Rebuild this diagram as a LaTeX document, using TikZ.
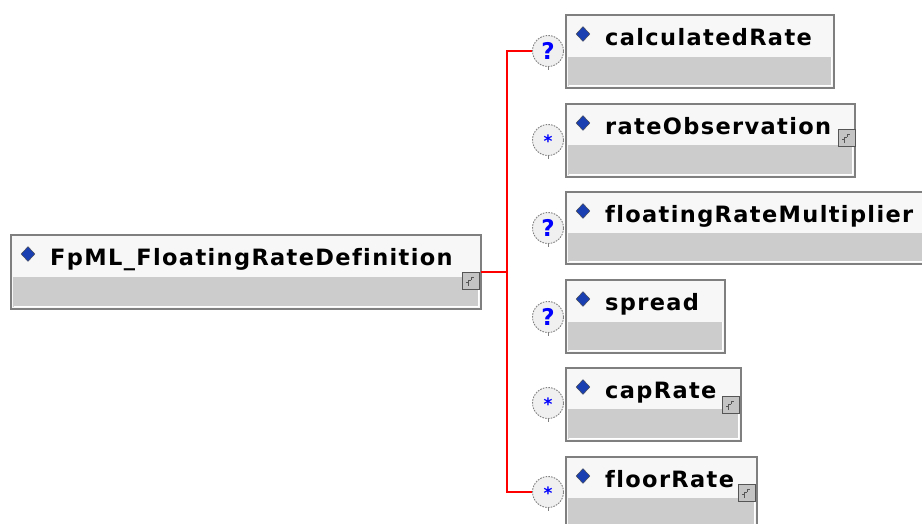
\documentclass[tikz,border=0pt]{standalone}
\usepackage{fontspec}
\setmainfont{DejaVu Sans}
\newfontfamily\lblfont[LetterSpace=6,Ligatures={NoCommon}]{DejaVu Sans}
\usetikzlibrary{shapes.geometric}
\definecolor{bordergray}{HTML}{7F7F7F}
\definecolor{topfill}{HTML}{F7F7F7}
\definecolor{bandfill}{HTML}{CCCCCC}
\definecolor{diamblue}{HTML}{1A3FB0}
\definecolor{badgefill}{HTML}{F0F0F0}
\definecolor{qblue}{HTML}{0000FF}
\definecolor{iconfill}{HTML}{C4C4C4}
\definecolor{iconedge}{HTML}{555555}
\definecolor{linered}{HTML}{FF0000}
\tikzset{
  elem/.style={anchor=north west, draw=bordergray, line width=1.6pt, fill=topfill, inner sep=0pt, outer sep=0pt},
  lbl/.style={anchor=base west, inner sep=0pt, font=\lblfont\fontsize{22.5}{26}\selectfont\bfseries},
  diam/.style={diamond, fill=diamblue, draw=black!70, line width=0.4pt, inner sep=0pt, minimum width=14pt, minimum height=15pt},
  badge/.style={circle, draw=bordergray, dash pattern=on 1.6pt off 1.2pt, line width=0.9pt, fill=badgefill, minimum size=31pt, inner sep=0pt},
  qmark/.style={text=qblue, font=\fontsize{23}{24}\selectfont\bfseries},
  star/.style={text=qblue, font=\fontsize{17}{18}\selectfont\bfseries},
  icon/.style={anchor=north west, draw=iconedge, line width=1pt, fill=iconfill, minimum size=17pt, inner sep=0pt},
  redline/.style={color=linered, line width=1.5pt},
}
% #1 name, #2 x1, #3 y1, #4 x2, #5 y2, #6 divider y, #7 label
\newcommand\elbox[7]{%
  \node[elem, minimum width={(#4-#2)*1pt}, minimum height={(#5-#3)*1pt}] (#1) at (#2,#3) {};
  \fill[bandfill] (#2+2,#6) rectangle (#4-2,#5-2);
  \draw[white, line width=0.8pt] (#2+2.5,#5-2.5) -- (#4-2.5,#5-2.5) -- (#4-2.5,#6);
  \node[diam] (#1-d) at (#2+17,#3+19) {};
  \node[lbl] (#1-t) at (#2+39,#3+30) {#7};
}
% icon: #1 name, #2 x, #3 y
\newcommand\cicon[3]{%
  \node[icon] (#1) at (#2,#3) {};
  \draw[iconedge, line width=1pt] (#2+6,#3+14) -- (#2+6,#3+8) -- (#2+9,#3+8) (#2+6,#3+10) -- (#2+4,#3+10) (#2+9,#3+8) -- (#2+9,#3+5) -- (#2+12,#3+5);
}
% badge tail
\newcommand\btail[1]{%
  \draw[bordergray, line width=0.9pt] (#1.south) -- ++(0,3);
}
\begin{document}
\begin{tikzpicture}[x=1pt, y=-1pt]
\useasboundingbox (0,0) rectangle (922,523);
\fill[white] (0,0) rectangle (922,523);

\coordinate (jn) at (507,272);

% main element
\elbox{main}{11}{235}{481}{309}{277}{FpML\_FloatingRateDefinition}
\cicon{mainic}{462}{272}

% children
\elbox{c1}{566}{15}{834}{88}{57}{calculatedRate}
\elbox{c2}{566}{104}{855}{177}{145}{rateObservation}
\cicon{c2ic}{838}{129}
\elbox{c3}{566}{192}{935}{264}{233}{floatingRateMultiplier}
\elbox{c4}{566}{280}{725}{353}{322}{spread}
\elbox{c5}{566}{368}{741}{441}{409}{capRate}
\cicon{c5ic}{722}{396}
\elbox{c6}{566}{457}{757}{535}{498}{floorRate}
\cicon{c6ic}{738}{484}

% badges
\node[badge] (b1) at (548,51) {}; \node[qmark] at (b1) {?};
\node[badge] (b2) at (548,140) {}; \node[star] at ([yshift=-1pt]b2) {*};
\node[badge] (b3) at (548,228) {}; \node[qmark] at (b3) {?};
\node[badge] (b4) at (548,317) {}; \node[qmark] at (b4) {?};
\node[badge] (b5) at (548,403) {}; \node[star] at ([yshift=-1pt]b5) {*};
\node[badge] (b6) at (548,492) {}; \node[star] at ([yshift=-1pt]b6) {*};
\foreach \b in {b1,b2,b3,b4,b5,b6} {\btail{\b}}

% connectors
\draw[redline] (main.east |- jn) -- (jn);
\draw[redline] (jn) |- (b1.west);
\draw[redline] (jn) |- (b6.west);
\end{tikzpicture}
\end{document}
